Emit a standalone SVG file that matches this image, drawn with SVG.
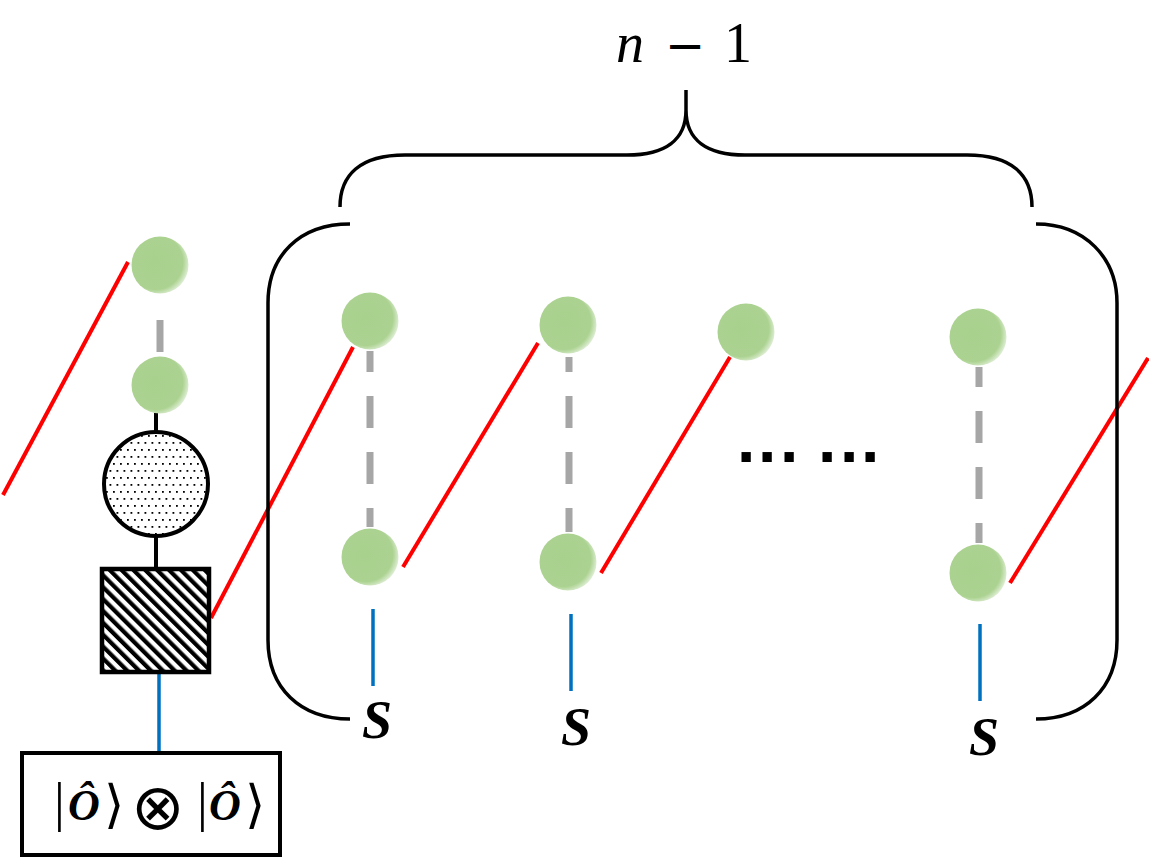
<svg xmlns="http://www.w3.org/2000/svg" width="1149" height="858" viewBox="0 0 1149 858">
<style>
.g{fill:url(#gg)}
.red{stroke:#FF0000;stroke-width:4;fill:none}
.blue{stroke:#0070C0;stroke-width:3.5;fill:none}
.gray{stroke:#A6A6A6;stroke-width:7;fill:none;stroke-dasharray:32 24}
.blk{stroke:#000;stroke-width:4;fill:none}
.br{stroke:#000;stroke-width:3.5;fill:none}
.s{font-family:"Liberation Serif","DejaVu Serif",serif;font-weight:bold;font-style:italic;font-size:54px;fill:#000}
.m{font-family:"Liberation Serif","DejaVu Serif",serif;font-size:44px;fill:#000}
</style>
<defs>
<radialGradient id="gg" cx="0.42" cy="0.45" r="0.6">
<stop offset="0" stop-color="#A9D18E"/>
<stop offset="0.8" stop-color="#ABD290"/>
<stop offset="1" stop-color="#E2F0D9"/>
</radialGradient>
<pattern id="dots" width="7" height="14" patternUnits="userSpaceOnUse">
<rect width="7" height="14" fill="#fff"/>
<rect x="1" y="1" width="1.8" height="1.8" fill="#000"/>
<rect x="4.5" y="8" width="1.8" height="1.8" fill="#000"/>
</pattern>
<pattern id="hatch" width="8.4" height="8.4" patternUnits="userSpaceOnUse" patternTransform="rotate(-45)">
<rect width="8.4" height="8.4" fill="#fff"/>
<rect x="0" y="0" width="4.2" height="8.4" fill="#000"/>
</pattern>
</defs>
<rect width="1149" height="858" fill="#fff"/>

<g id="connectors">
<line class="red" x1="128" y1="262" x2="3" y2="495"/>
<line class="red" x1="211" y1="618" x2="353" y2="347"/>
<line class="red" x1="403" y1="567" x2="538" y2="343"/>
<line class="red" x1="601" y1="573" x2="730" y2="357"/>
<line class="red" x1="1010" y1="583" x2="1148" y2="358"/>
<line stroke="#A6A6A6" stroke-width="7" x1="160" y1="320" x2="160" y2="352"/>
<line class="gray" x1="370" y1="351" x2="370" y2="527" stroke-dashoffset="11"/>
<line class="gray" x1="569" y1="357" x2="569" y2="532" stroke-dashoffset="17"/>
<line class="gray" x1="979" y1="367" x2="979" y2="543" stroke-dashoffset="12"/>
<line class="blk" x1="156" y1="413" x2="156" y2="432"/>
<line class="blk" x1="156" y1="537" x2="156" y2="567"/>
<line class="blue" x1="159" y1="674" x2="159" y2="752"/>
<line class="blue" x1="373" y1="609" x2="373" y2="686"/>
<line class="blue" x1="571" y1="614" x2="571" y2="691"/>
<line class="blue" x1="980" y1="624" x2="980" y2="701"/>
</g>

<g id="brackets">
<path class="br" d="M340,207 C340,175 360,155 405,155 L627,155 C665,155 686,140 686,110 L686,90 M686,110 C686,140 707,155 745,155 L967,155 C1012,155 1032,175 1032,207"/>
<path class="br" d="M350,224 C300,224 268,255 268,303 L268,640 C268,688 300,719 350,719"/>
<path class="br" d="M1036,224 C1085,224 1117,258 1117,303 L1117,640 C1117,688 1085,719 1036,719"/>
</g>

<g id="label-n">
<text font-family="Liberation Serif, DejaVu Serif, serif" font-size="56" fill="#000"><tspan x="616" y="62" font-style="italic">n</tspan><tspan x="665" y="62" font-family="DejaVu Sans, sans-serif" font-size="48">−</tspan><tspan x="724" y="62">1</tspan></text>
</g>

<g id="left-top"><circle class="g" cx="160" cy="265" r="28.5"/></g>
<g id="left-bottom"><circle class="g" cx="160" cy="385" r="28.5"/></g>
<g id="dotted-circle"><circle cx="156" cy="484" r="52" fill="url(#dots)" stroke="#000" stroke-width="4"/></g>
<g id="hatched-square"><rect x="102" y="569" width="107" height="103" fill="url(#hatch)" stroke="#000" stroke-width="4.5"/></g>
<g id="state-box">
<rect x="22" y="753" width="258" height="102" fill="#fff" stroke="#000" stroke-width="4"/>
<text class="m"><tspan x="54" y="820" font-size="54">|</tspan><tspan x="68" y="820" font-weight="bold" font-style="italic" font-size="44">Ô</tspan><tspan x="104" y="822" font-size="52" font-family="DejaVu Serif, serif">⟩</tspan><tspan x="131" y="829" font-family="DejaVu Sans, sans-serif" font-weight="200" font-size="64">⊗</tspan><tspan x="197" y="820" font-size="54">|</tspan><tspan x="209" y="820" font-weight="bold" font-style="italic" font-size="44">Ô</tspan><tspan x="245" y="822" font-size="52" font-family="DejaVu Serif, serif">⟩</tspan></text>
</g>

<g id="col1-top"><circle class="g" cx="370" cy="321" r="28.5"/></g>
<g id="col1-bottom"><circle class="g" cx="370" cy="557" r="28.5"/></g>
<g id="col1-s"><text class="s" x="362" y="738">S</text></g>

<g id="col2-top"><circle class="g" cx="568" cy="325" r="28.5"/></g>
<g id="col2-bottom"><circle class="g" cx="568" cy="562" r="28.5"/></g>
<g id="col2-s"><text class="s" x="561" y="745">S</text></g>

<g id="col3-top"><circle class="g" cx="746" cy="332" r="28.5"/></g>

<g id="col4-top"><circle class="g" cx="978" cy="337" r="28.5"/></g>
<g id="col4-bottom"><circle class="g" cx="978" cy="573" r="28.5"/></g>
<g id="col4-s"><text class="s" x="969" y="755">S</text></g>

<g id="ellipsis"><text font-family="Liberation Sans, Arial, sans-serif" font-weight="bold" font-size="66" fill="#000" x="737 758 780 799 818 840 861" y="462">... ...</text></g>
</svg>
